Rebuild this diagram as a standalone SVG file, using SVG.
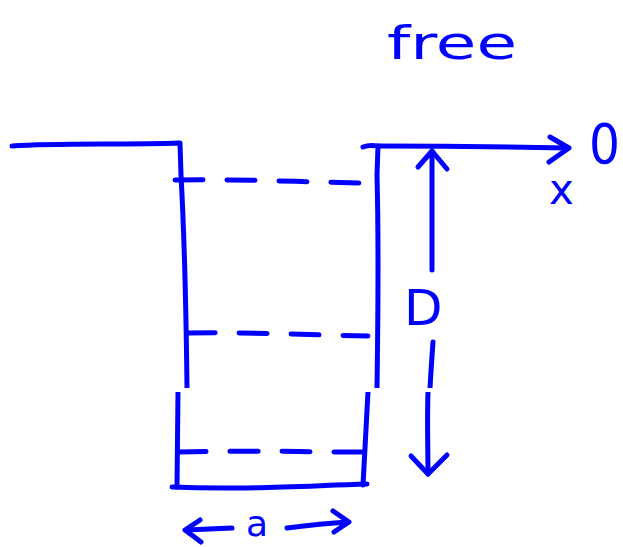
<svg xmlns="http://www.w3.org/2000/svg" width="623" height="547" viewBox="0 0 623 547">
<style>
.s{fill:none;stroke:#0000ff;stroke-width:5;stroke-linecap:round;stroke-linejoin:round}
.d{fill:none;stroke:#0000ff;stroke-width:5;stroke-linecap:round;stroke-dasharray:28 24}
.t{fill:#0000ff;font-family:"DejaVu Sans",sans-serif}
</style>
<rect width="623" height="547" fill="#fff"/>
<!-- ground and walls -->
<path class="s" d="M12,146 C60,143 120,145 180,143 L181,175 C184,230 186,300 187,388"/>
<path class="s" d="M178,392 L177,487"/>
<path class="s" d="M172,487 C240,490 300,486 367,484"/>
<path class="s" d="M363,147 C368,145 372,145 378,146 L377,175 C379,250 378,320 377,388"/>
<path class="s" d="M368,392 L363,485"/>
<!-- dashed levels -->
<path class="d" d="M175,180 C250,179 300,182 365,183"/>
<path class="d" d="M187,333 C250,332 310,335 368,336"/>
<path class="d" d="M178,452 C250,450 300,452 362,452"/>
<!-- x axis arrow -->
<path class="s" d="M378,146 C450,146 520,147 568,148"/>
<path class="s" d="M550,137 L569,148 L549,162"/>
<!-- D arrow -->
<path class="s" d="M432,270 L432,151"/>
<path class="s" d="M418,167 L432,151 L447,169"/>
<path class="s" d="M433,342 C431,370 430,388 430,388 M428,392 C427,420 428,450 428,474"/>
<path class="s" d="M411,456 L428,474 L447,455"/>
<!-- a arrow -->
<path class="s" d="M232,528 L186,530"/>
<path class="s" d="M200,520 L185,530 L201,542"/>
<path class="s" d="M287,528 C310,525 330,523 348,522"/>
<path class="s" d="M333,511 L349,522 L334,532"/>
<!-- texts -->
<text class="t" x="387" y="59" font-size="46" textLength="130" lengthAdjust="spacingAndGlyphs">free</text>
<text class="t" x="589" y="163" font-size="55" textLength="31" lengthAdjust="spacingAndGlyphs">0</text>
<text class="t" x="549" y="204" font-size="42">x</text>
<text class="t" x="404" y="325" font-size="50">D</text>
<text class="t" x="246" y="536" font-size="36">a</text>
<!-- white gap band -->
<rect x="168" y="388" width="275" height="4" fill="#fff"/>
</svg>
